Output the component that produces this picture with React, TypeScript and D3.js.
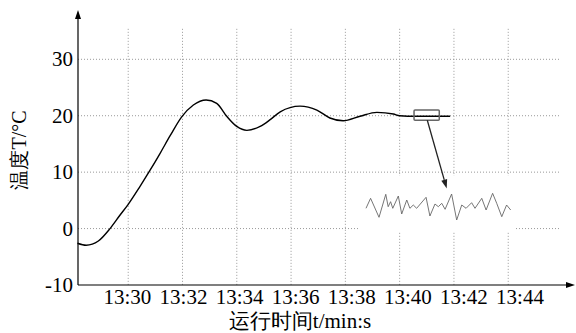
import React, { useEffect, useRef } from "react";
import * as d3 from "d3";

// time in minutes after 13:00, temperature in °C
const curveTime = [28.13, 28.45, 28.9, 29.33, 29.7, 30.0, 30.43, 30.8, 31.17, 31.55, 31.97, 32.4, 32.87, 33.26, 33.63, 34.0, 34.37, 34.86, 35.23, 35.6, 36.33, 36.95, 37.43, 37.92, 38.54, 39.16, 39.77, 40.0, 40.6, 41.2, 41.86];
const curveTemp = [-2.6, -2.95, -2.2, 0, 2.4, 4.3, 7.45, 10.3, 13.3, 16.5, 19.8, 21.9, 22.8, 22.2, 19.9, 18.1, 17.4, 18.1, 19.3, 20.7, 21.7, 21.0, 19.6, 19.1, 19.9, 20.6, 20.3, 20.0, 19.9, 19.9, 19.9];

// zoomed detail of the steady part (seconds within window, deviation)
const noiseTime = [0, 1.9, 5.4, 8.2, 9.2, 10.2, 11.1, 13.4, 14.8, 16.9, 18.2, 19.6, 21.0, 24.9, 26.5, 28.6, 30.0, 31.4, 32.8, 35.5, 37.6, 39.7, 41.5, 43.8, 45.2, 48.0, 49.8, 52.5, 54.2, 56.3, 58.3, 60];
const noiseDev = [-2.3, 7.7, -11.3, 11.7, -0.7, 4.3, -2.3, 10, -8, 6, -2.3, 1, -2.3, 8.7, -10, 2, -0.7, 2.7, -3.3, 12, -14, 1, -2.3, 3.3, -2.3, 7.7, -4, 12.7, 2.7, -10.7, 1, -4];

const xTicks = [30, 32, 34, 36, 38, 40, 42, 44];
const xTickLabels = ["13:30", "13:32", "13:34", "13:36", "13:38", "13:40", "13:42", "13:44"];
const yTicks = [-10, 0, 10, 20, 30];
const yGrid = [0, 10, 20, 30];

// zoom box around the flat part
const boxTime = [40.53, 41.46];
const boxTemp = [19.2, 21.0];

const App = () => {
  const ref = useRef<SVGSVGElement>(null);

  useEffect(() => {
    const width = 576;
    const height = 333;
    const svg = d3.select(ref.current).attr("width", width).attr("height", height);
    svg.selectAll("*").remove();

    const x = d3.scaleLinear().domain([28.15, 46.46]).range([78, 575]);
    const y = d3.scaleLinear().domain([-10, 30]).range([285, 59.3]);
    // tick labels in the original sit slightly wider apart than the grid
    const xLabel = d3.scaleLinear().domain([30, 44]).range([127.4, 520]);

    const serif = "Liberation Serif, Tinos, DejaVu Serif, serif";

    // grid
    const grid = svg.append("g").attr("stroke", "#999").attr("stroke-width", 1).attr("stroke-dasharray", "1,2");
    grid.selectAll("line.v")
      .data(xTicks)
      .enter()
      .append("line")
      .attr("x1", (d) => x(d)).attr("x2", (d) => x(d))
      .attr("y1", y(35.4)).attr("y2", y(-10));
    grid.selectAll("line.h")
      .data(yGrid)
      .enter()
      .append("line")
      .attr("x1", x(28.15)).attr("x2", 560)
      .attr("y1", (d) => y(d)).attr("y2", (d) => y(d));

    // white panel behind the detail inset
    svg.append("rect")
      .attr("x", 360).attr("y", 176)
      .attr("width", 154).attr("height", 55)
      .attr("fill", "white");

    // axes with arrows
    const x0 = x(28.15);
    const y0 = y(-10);
    const yTop = 10;
    const xEnd = 575;
    svg.append("line").attr("x1", x0).attr("x2", x0).attr("y1", y0).attr("y2", yTop + 6)
      .attr("stroke", "black").attr("stroke-width", 1.2);
    svg.append("path").attr("d", `M${x0},${yTop} L${x0 - 3},${yTop + 9} L${x0 + 3},${yTop + 9} Z`).attr("fill", "black");
    svg.append("line").attr("x1", x0).attr("x2", xEnd - 6).attr("y1", y0).attr("y2", y0)
      .attr("stroke", "black").attr("stroke-width", 1.2);
    svg.append("path").attr("d", `M${xEnd},${y0} L${xEnd - 9},${y0 - 3} L${xEnd - 9},${y0 + 3} Z`).attr("fill", "black");

    // tick labels
    svg.append("g").selectAll("text")
      .data(yTicks)
      .enter()
      .append("text")
      .attr("x", 73)
      .attr("y", (d) => y(d) + 7)
      .attr("text-anchor", "end")
      .attr("font-family", serif)
      .attr("font-size", 21)
      .text((d) => d);

    svg.append("g").selectAll("text")
      .data(xTicks)
      .enter()
      .append("text")
      .attr("x", (d) => xLabel(d))
      .attr("y", 304)
      .attr("text-anchor", "middle")
      .attr("font-family", serif)
      .attr("font-size", 21)
      .text((d, i) => xTickLabels[i]);

    // axis titles
    svg.append("text")
      .attr("transform", "translate(26,150) rotate(-90)")
      .attr("text-anchor", "middle")
      .attr("font-family", serif)
      .attr("font-size", 20)
      .text("温度T/°C");
    svg.append("text")
      .attr("x", 300)
      .attr("y", 328)
      .attr("text-anchor", "middle")
      .attr("font-family", serif)
      .attr("font-size", 21)
      .text("运行时间t/min:s");

    // main curve
    const line = d3.line<number>()
      .x((d, i) => x(curveTime[i]))
      .y((d) => y(d))
      .curve(d3.curveMonotoneX);
    svg.append("path")
      .attr("d", line(curveTemp))
      .attr("fill", "none")
      .attr("stroke", "black")
      .attr("stroke-width", 1.4);

    // zoom box
    svg.append("rect")
      .attr("x", x(boxTime[0]))
      .attr("y", y(boxTemp[1]))
      .attr("width", x(boxTime[1]) - x(boxTime[0]))
      .attr("height", y(boxTemp[0]) - y(boxTemp[1]))
      .attr("rx", 1)
      .attr("fill", "none")
      .attr("stroke", "#666")
      .attr("stroke-width", 1.5);

    // arrow from box to inset
    const ax1 = 427.3, ay1 = y(boxTemp[0]);
    const ax2 = 446.7, ay2 = 188.5;
    const ang = Math.atan2(ay2 - ay1, ax2 - ax1);
    const hl = 9, hw = 3;
    const bx = ax2 - hl * Math.cos(ang), by = ay2 - hl * Math.sin(ang);
    svg.append("line")
      .attr("x1", ax1).attr("y1", ay1).attr("x2", bx).attr("y2", by)
      .attr("stroke", "#222").attr("stroke-width", 1.3);
    svg.append("path")
      .attr("d", `M${ax2},${ay2} L${bx + hw * Math.sin(ang)},${by - hw * Math.cos(ang)} L${bx - hw * Math.sin(ang)},${by + hw * Math.cos(ang)} Z`)
      .attr("fill", "#222");

    // detail inset
    const nx = d3.scaleLinear().domain([0, 60]).range([366, 510.7]);
    const ny = d3.scaleLinear().domain([-15, 15]).range([221, 191]);
    const noiseLine = d3.line<number>()
      .x((d, i) => nx(noiseTime[i]))
      .y((d) => ny(d));
    svg.append("path")
      .attr("d", noiseLine(noiseDev))
      .attr("fill", "none")
      .attr("stroke", "#666")
      .attr("stroke-width", 0.9);
  }, []);

  return <svg ref={ref} style={{ position: "absolute", left: 0, top: 0, background: "white" }}></svg>;
};

export default App;
